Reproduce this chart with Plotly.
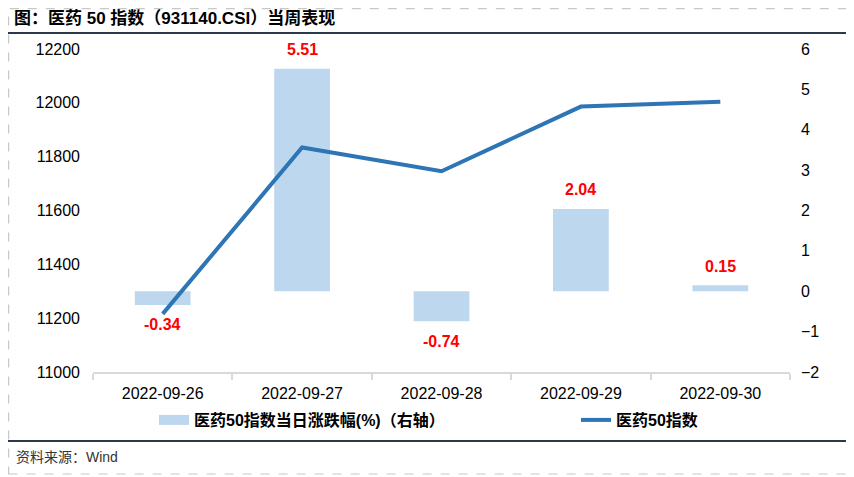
import plotly.graph_objects as go

dates = ["2022-09-26", "2022-09-27", "2022-09-28", "2022-09-29", "2022-09-30"]
pct_change = [-0.34, 5.51, -0.74, 2.04, 0.15]
index_close = [11216, 11834, 11746, 11986, 12004]
pct_labels = ["-0.34", "5.51", "-0.74", "2.04", "0.15"]

bar_name = "医药50指数当日涨跌幅(%)（右轴）"
line_name = "医药50指数"
title_text = "图：医药 50 指数（931140.CSI）当周表现"
source_text = "资料来源：Wind"

FONT = "Liberation Sans, Arial, Noto Sans CJK SC, sans-serif"
BAR_COLOR = "#BDD7EE"
LINE_COLOR = "#2E75B6"

# page has an 8px body margin; figure sized to fit the window
W, H = 846, 469
L, R, T, B = 85, 64, 41, 105
PW, PH = W - L - R, H - T - B
OFF = 8


def px_x(sx):
    return (sx - OFF - L) / PW


def px_y(sy):
    return (H - B - (sy - OFF)) / PH


fig = go.Figure()
fig.add_trace(go.Bar(
    x=dates, y=pct_change, name=bar_name, yaxis="y",
    marker=dict(color=BAR_COLOR, line=dict(width=0)), width=0.4,
    showlegend=False,
))
# legend swatch for the bars (wide rectangle like the original)
fig.add_trace(go.Scatter(
    x=[None], y=[None], name=bar_name, yaxis="y", mode="lines",
    line=dict(color=BAR_COLOR, width=10), legend="legend", hoverinfo="skip",
))
fig.add_trace(go.Scatter(
    x=dates, y=index_close, name=line_name, yaxis="y2", mode="lines",
    line=dict(color=LINE_COLOR, width=4),
    legend="legend2",
))

annotations = []
for d, v, t in zip(dates, pct_change, pct_labels):
    annotations.append(dict(
        x=d, y=v, xref="x", yref="y", text=t, showarrow=False,
        yanchor="middle", yshift=19 if v >= 0 else -20,
        font=dict(family=FONT, size=16, color="#FF0000", weight="bold"),
    ))
annotations.append(dict(
    x=px_x(12), y=px_y(18), xref="paper", yref="paper", text="<b>" + title_text + "</b>",
    showarrow=False, xanchor="left", yanchor="middle",
    font=dict(family=FONT, size=17, color="#000000"),
))
annotations.append(dict(
    x=px_x(14), y=px_y(457), xref="paper", yref="paper", text=source_text,
    showarrow=False, xanchor="left", yanchor="middle",
    font=dict(family=FONT, size=14, color="#333333"),
))

shapes = [
    dict(type="rect", xref="paper", yref="paper", x0=px_x(8.6), x1=px_x(852), y0=px_y(474), y1=px_y(8.6),
         line=dict(color="#C8C8C8", width=1.2, dash="dash"), layer="below"),
    dict(type="line", xref="paper", yref="paper", x0=px_x(8), x1=px_x(852), y0=px_y(33), y1=px_y(33),
         line=dict(color="#2B3A4A", width=1.8)),
    dict(type="line", xref="paper", yref="paper", x0=px_x(8), x1=px_x(852), y0=px_y(441), y1=px_y(441),
         line=dict(color="#2B3A4A", width=1.8)),
]

legend_font = dict(family=FONT, size=16, color="#000000", weight="bold")

fig.update_layout(
    width=W, height=H,
    margin=dict(l=L, r=R, t=T, b=B, autoexpand=False),
    paper_bgcolor="white", plot_bgcolor="white",
    font=dict(family=FONT, size=16, color="#000000"),
    xaxis=dict(
        type="category", showgrid=False, showline=True, linecolor="#D9D9D9", linewidth=1.5,
        ticks="outside", tickson="boundaries", ticklen=6, tickcolor="#D9D9D9", tickwidth=1.5,
        tickfont=dict(size=16, color="#000000"), zeroline=False, ticklabelstandoff=6,
    ),
    yaxis=dict(
        range=[-2, 6], dtick=1, side="right", showgrid=False, zeroline=False,
        showline=False, tickfont=dict(size=16, color="#000000"), ticklabelstandoff=10,
    ),
    yaxis2=dict(
        range=[11000, 12200], dtick=200, overlaying="y", side="left", showgrid=False,
        zeroline=False, showline=False, tickfont=dict(size=16, color="#000000"),
        ticklabelstandoff=12, tickformat="d",
    ),
    legend=dict(
        orientation="h", x=px_x(154), y=px_y(420), xanchor="left", yanchor="middle",
        font=legend_font, bgcolor="rgba(0,0,0,0)",
    ),
    legend2=dict(
        orientation="h", x=px_x(576), y=px_y(420), xanchor="left", yanchor="middle",
        font=legend_font, bgcolor="rgba(0,0,0,0)",
    ),
    annotations=annotations,
    shapes=shapes,
    showlegend=True,
)

fig.write_html("out.html")
